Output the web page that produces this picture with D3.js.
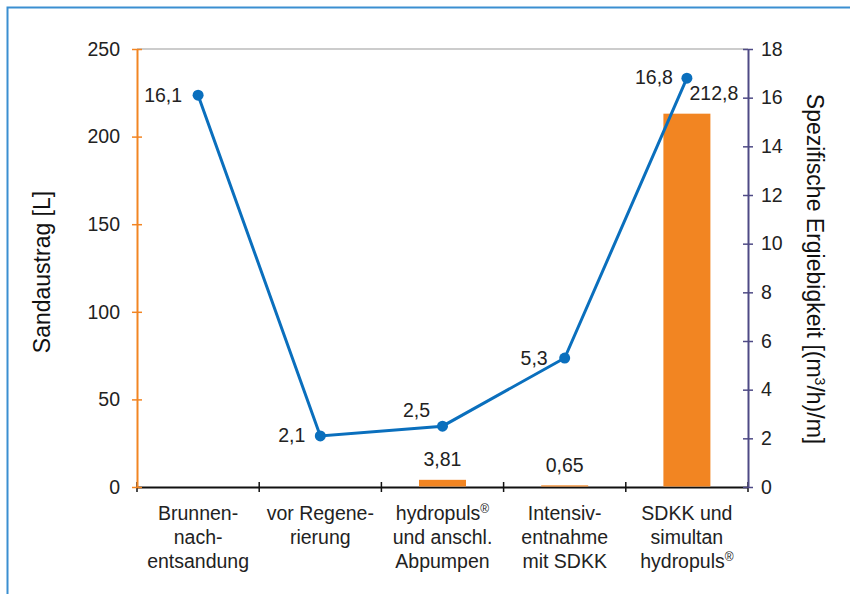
<!DOCTYPE html>
<html>
<head>
<meta charset="utf-8">
<script src="https://cdn.jsdelivr.net/npm/d3@7"></script>
<style>
  body { margin: 0; background: #fff; }
  text { font-family: "Liberation Sans", Arial, sans-serif; fill: #222; }
</style>
</head>
<body>
<div id="chart"></div>
<script>
// Data
const categories = [
    ["Brunnen-", "nach-", "entsandung"],
    ["vor Regene-", "rierung"],
    ["hydropuls®", "und anschl.", "Abpumpen"],
    ["Intensiv-", "entnahme", "mit SDKK"],
    ["SDKK und", "simultan", "hydropuls®"]
];
const sandValues = [null, null, 3.81, 0.65, 212.8];
const sandLabels = ["", "", "3,81", "0,65", "212,8"];
const yieldValues = [16.1, 2.1, 2.5, 5.3, 16.8];
const yieldLabels = ["16,1", "2,1", "2,5", "5,3", "16,8"];
const leftTicks = [0, 50, 100, 150, 200, 250];
const rightTicks = [0, 2, 4, 6, 8, 10, 12, 14, 16, 18];

const width = 850;
const height = 594;
const margin = {top: 49, right: 102, bottom: 107, left: 137};
const fs = "19.5px";

const orange = "#f28522";
const blue = "#0a6fbd";
const navy = "#4e4a85";

const svg = d3.select("#chart")
    .append("svg")
    .attr("width", width)
    .attr("height", height);

// Outer frame
svg.append("path")
    .attr("d", `M 7.5 ${height + 5} L 7.5 7.5 L ${width + 5} 7.5`)
    .attr("fill", "none")
    .attr("stroke", "#3b8fd1")
    .attr("stroke-width", 2);

// Scales
const x = d3.scaleBand()
    .domain(d3.range(categories.length))
    .range([margin.left, width - margin.right])
    .paddingInner(0).paddingOuter(0);
const yLeft = d3.scaleLinear().domain([0, 250]).range([height - margin.bottom, margin.top]);
const yRight = d3.scaleLinear().domain([0, 18]).range([height - margin.bottom, margin.top]);

// Top grey line
svg.append("line")
    .attr("x1", margin.left).attr("x2", width - margin.right)
    .attr("y1", yLeft(250)).attr("y2", yLeft(250))
    .attr("stroke", "#999").attr("stroke-width", 1);

// Bottom axis (drawn under the bars so thin bars stay visible)
const xBoundaries = d3.range(categories.length + 1).map(i =>
    i < categories.length ? x(i) : x(i - 1) + x.bandwidth());
const bottom = svg.append("g");
bottom.append("line")
    .attr("x1", margin.left).attr("x2", width - margin.right)
    .attr("y1", yLeft(0) + 0.5).attr("y2", yLeft(0) + 0.5)
    .attr("stroke", "#111").attr("stroke-width", 2);
bottom.selectAll("line.tick")
    .data(xBoundaries)
    .enter()
    .append("line")
    .attr("class", "tick")
    .attr("x1", d => d).attr("x2", d => d)
    .attr("y1", yLeft(0) - 5).attr("y2", yLeft(0) + 5)
    .attr("stroke", "#111").attr("stroke-width", 1.5);

// Bars
const barWidth = 47;
svg.selectAll("rect.bar")
    .data(sandValues.map((v, i) => ({v, i})).filter(d => d.v !== null))
    .enter()
    .append("rect")
    .attr("class", "bar")
    .attr("x", d => x(d.i) + x.bandwidth() / 2 - barWidth / 2)
    .attr("y", d => yLeft(d.v) - 0.5)
    .attr("width", barWidth)
    .attr("height", d => yLeft(0) - yLeft(d.v))
    .attr("fill", orange);

// Left axis
const leftAxis = svg.append("g")
    .attr("transform", `translate(${margin.left},0)`)
    .call(d3.axisLeft(yLeft).tickValues(leftTicks).tickSize(0).tickPadding(17));
leftAxis.select(".domain").attr("stroke", orange).attr("stroke-width", 2);
leftAxis.selectAll(".tick text").attr("font-size", fs).attr("fill", "#222")
    .attr("font-family", "Liberation Sans, Arial, sans-serif");
leftAxis.selectAll(".tick").append("line")
    .attr("x1", -5).attr("x2", 5)
    .attr("stroke", orange).attr("stroke-width", 1.5);

// Right axis
const rightAxis = svg.append("g")
    .attr("transform", `translate(${width - margin.right},0)`)
    .call(d3.axisRight(yRight).tickValues(rightTicks).tickSize(0).tickPadding(13));
rightAxis.select(".domain").attr("stroke", navy).attr("stroke-width", 2);
rightAxis.selectAll(".tick text").attr("font-size", fs).attr("fill", "#222")
    .attr("font-family", "Liberation Sans, Arial, sans-serif");
rightAxis.selectAll(".tick").append("line")
    .attr("x1", -5).attr("x2", 5)
    .attr("stroke", navy).attr("stroke-width", 1.5);

// Category labels
categories.forEach((lines, i) => {
    const t = svg.append("text")
        .attr("text-anchor", "middle")
        .attr("font-size", fs);
    lines.forEach((ln, j) => {
        const ts = t.append("tspan")
            .attr("x", x(i) + x.bandwidth() / 2)
            .attr("y", 520 + j * 24);
        if (ln.endsWith("®")) {
            ts.text(ln.slice(0, -1));
            ts.append("tspan").attr("font-size", "12px").attr("dy", -7).text("®");
        } else {
            ts.text(ln);
        }
    });
});

// Line
const line = d3.line()
    .x((d, i) => x(i) + x.bandwidth() / 2)
    .y(d => yRight(d));
svg.append("path")
    .datum(yieldValues)
    .attr("d", line)
    .attr("fill", "none")
    .attr("stroke", blue)
    .attr("stroke-width", 3);
svg.selectAll("circle.pt")
    .data(yieldValues)
    .enter()
    .append("circle")
    .attr("class", "pt")
    .attr("cx", (d, i) => x(i) + x.bandwidth() / 2)
    .attr("cy", d => yRight(d))
    .attr("r", 5.5)
    .attr("fill", blue);

// Line labels
const lineLabelOffsets = [[-16, 7, "end"], [-15, 6, "end"], [-26, -9, "middle"], [-17, 7, "end"], [-14, 6, "end"]];
svg.selectAll("text.ylab")
    .data(yieldValues)
    .enter()
    .append("text")
    .attr("class", "ylab")
    .attr("x", (d, i) => x(i) + x.bandwidth() / 2 + lineLabelOffsets[i][0])
    .attr("y", (d, i) => yRight(d) + lineLabelOffsets[i][1])
    .attr("text-anchor", (d, i) => lineLabelOffsets[i][2])
    .attr("font-size", fs)
    .text((d, i) => yieldLabels[i]);

// Bar labels
svg.selectAll("text.blab")
    .data(sandValues.map((v, i) => ({v, i})).filter(d => d.v !== null))
    .enter()
    .append("text")
    .attr("class", "blab")
    .attr("x", d => x(d.i) + x.bandwidth() / 2 + (d.i === 4 ? 27 : 0))
    .attr("y", d => (d.i === 4 ? yRight(yieldValues[4]) + 22 : yLeft(d.v) - 14))
    .attr("text-anchor", "middle")
    .attr("font-size", fs)
    .text(d => sandLabels[d.i]);

// Axis titles
svg.append("text")
    .attr("transform", `translate(50,${(yLeft(0) + yLeft(250)) / 2 + 4}) rotate(-90)`)
    .attr("text-anchor", "middle")
    .attr("font-size", "23px")
    .style("fill", "#111")
    .text("Sandaustrag [L]");

const rt = svg.append("text")
    .attr("transform", `translate(807,${(yRight(0) + yRight(18)) / 2 + 1}) rotate(90)`)
    .attr("text-anchor", "middle")
    .attr("font-size", "23px")
    .style("fill", "#111");
rt.append("tspan").text("Spezifische Ergiebigkeit [(m");
rt.append("tspan").attr("font-size", "14px").attr("dy", -8).text("3");
rt.append("tspan").attr("dy", 8).text("/h)/m]");
</script>
</body>
</html>
